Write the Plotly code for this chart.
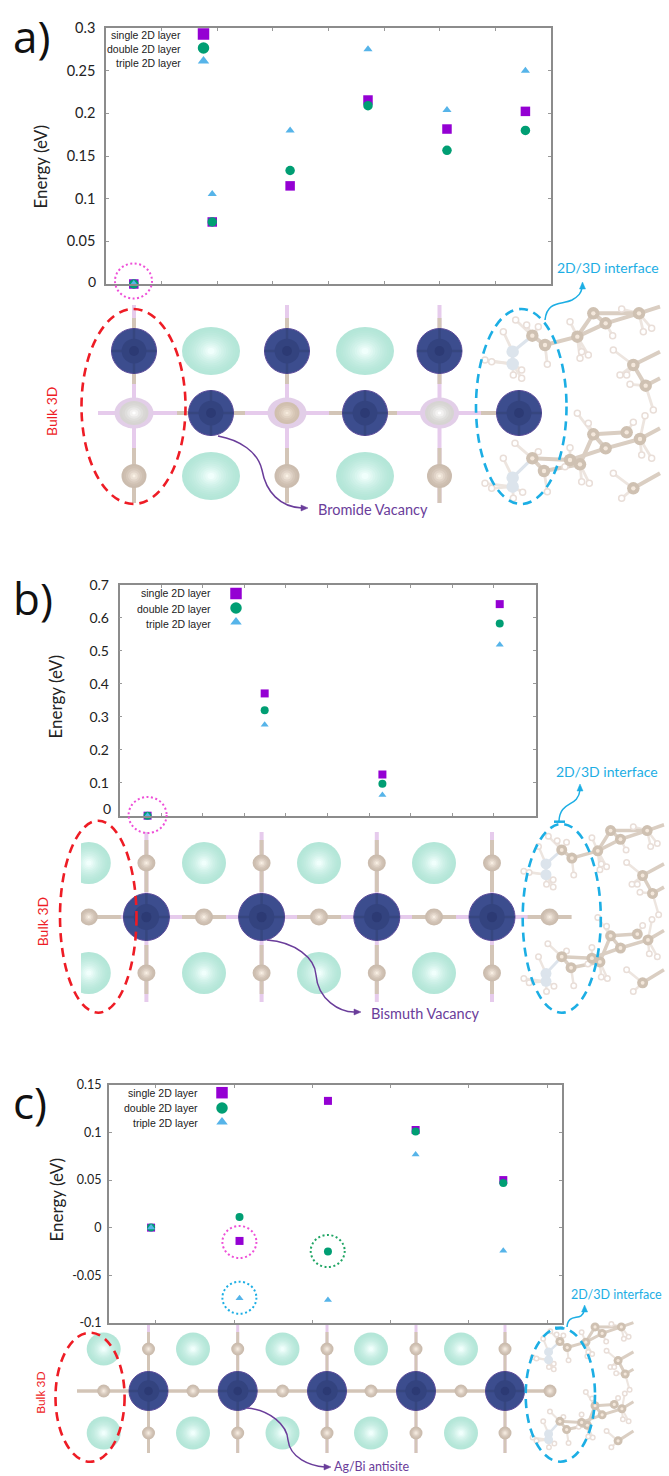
import plotly.graph_objects as go

W, H = 669, 1476
LABELS = ["single 2D layer", "double 2D layer", "triple 2D layer"]
COLORS = ["#9400D3", "#009E73", "#56B4E9"]
SYMBOLS = ["square", "circle", "triangle-up"]

# ---------- chart data ----------
a_x = [0.5, 1.91, 3.31, 4.71, 6.13, 7.54]
a_single = [0, 0.0727, 0.115, 0.2156, 0.1816, 0.2023]
a_double = [0, 0.0727, 0.133, 0.209, 0.1566, 0.18]
a_triple = [0, 0.1055, 0.18, 0.275, 0.204, 0.25]
a_ticks = [0, 0.05, 0.1, 0.15, 0.2, 0.25, 0.3]
a_ticktext = ["", "0.05", "0.1", "0.15", "0.2", "0.25", "0.3"]

b_x = [0.675, 3.49, 6.32, 9.14]
b_single = [0, 0.371, 0.125, 0.642]
b_double = [0, 0.32, 0.097, 0.583]
b_triple = [0, 0.276, 0.063, 0.519]
b_ticks = [0, 0.1, 0.2, 0.3, 0.4, 0.5, 0.6, 0.7]
b_ticktext = ["", "0.1", "0.2", "0.3", "0.4", "0.5", "0.6", "0.7"]

c_x = [0.94, 2.07, 3.2, 4.32, 5.44]
c_single = [0, -0.014, 0.1333, 0.1027, 0.05]
c_double = [0, 0.0112, -0.025, 0.101, 0.047]
c_triple = [0, -0.0743, -0.076, 0.0768, -0.0242]
c_ticks = [-0.1, -0.05, 0, 0.05, 0.1, 0.15]
c_ticktext = ["-0.1", "-0.05", "0", "0.05", "0.1", "0.15"]

panels = [
    dict(box=(106, 551, 28, 284), x=a_x, s=[a_single, a_double, a_triple], yr=[0, 0.3],
         xr=[0, 8], xt=list(range(1, 8)), yt=a_ticks, ytt=a_ticktext, ms=[9.5, 9.5, 8], ts=14.5, sd=9),
    dict(box=(119.5, 535.5, 585, 815.7), x=b_x, s=[b_single, b_double, b_triple], yr=[0, 0.7],
         xr=[0, 10], xt=list(range(1, 10)), yt=b_ticks, ytt=b_ticktext, ms=[8, 8, 7], ts=14, sd=9),
    dict(box=(108.8, 562, 1085, 1322.7), x=c_x, s=[c_single, c_double, c_triple], yr=[-0.1, 0.15],
         xr=[0.4, 6.19], xt=[1, 2, 3, 4, 5, 6], yt=c_ticks, ytt=c_ticktext, ms=[8, 8, 7], ts=12.5, sd=6),
]

fig = go.Figure()
layout = {}
for i, p in enumerate(panels):
    n = "" if i == 0 else str(i + 1)
    x0, x1, y0, y1 = p["box"]
    layout["xaxis" + n] = dict(domain=[x0 / W, x1 / W], range=p["xr"], tickvals=p["xt"], ticktext=[""] * len(p["xt"]),
                               ticks="inside", ticklen=3, tickcolor="#999", showline=True, mirror="ticks",
                               linecolor="#8c8c8c", linewidth=1.5, showgrid=False, zeroline=False, anchor="y" + n,
                               automargin=False)
    layout["yaxis" + n] = dict(domain=[1 - y1 / H, 1 - y0 / H], range=p["yr"], tickvals=p["yt"], ticktext=p["ytt"],
                               ticks="inside", ticklen=3, tickcolor="#999", showline=True, mirror="ticks",
                               linecolor="#8c8c8c", linewidth=1.5, showgrid=False, zeroline=False, anchor="x" + n,
                               ticklabelstandoff=p["sd"] - 3, automargin=False,
                               tickfont=dict(family="Lato", size=p["ts"], color="#222"))
    for lab, col, sym, vals, ms in zip(LABELS, COLORS, SYMBOLS, p["s"], p["ms"]):
        fig.add_trace(go.Scatter(x=p["x"], y=vals, mode="markers", name=lab, showlegend=False, cliponaxis=False,
                                 xaxis="x" + n, yaxis="y" + n,
                                 marker=dict(symbol=sym, size=ms, color=col, line=dict(width=0))))

# ---------- page-pixel overlay for the schematics ----------
layout["xaxis4"] = dict(domain=[0, 1], range=[0, W], visible=False, anchor="y4", fixedrange=True, automargin=False)
layout["yaxis4"] = dict(domain=[0, 1], range=[H, 0], visible=False, anchor="x4", fixedrange=True, automargin=False)
shapes, annos = [], []


def txt(x, y, s, size, color, family="Lato", anchor="center", angle=0):
    annos.append(dict(x=x, y=y, xref="x4", yref="y4", text=s, showarrow=False, xanchor=anchor, yanchor="middle",
                      textangle=angle, font=dict(family=family, size=size, color=color)))


def mix(c1, c2, t):
    a = [int(c1[i:i + 2], 16) for i in (1, 3, 5)]
    b = [int(c2[i:i + 2], 16) for i in (1, 3, 5)]
    return "#" + "".join(f"{round(u + (v - u) * t):02x}" for u, v in zip(a, b))


def ell(x, y, rx, ry, fill, line=None, lw=1, dash=None):
    shapes.append(dict(type="circle", xref="x4", yref="y4", x0=x - rx, x1=x + rx, y0=y - ry, y1=y + ry,
                       fillcolor=fill, line=dict(color=line or fill, width=lw if line else 0, dash=dash)))


def ball(x, y, rx, ry, edge, centre, n=6, core=0.12):
    for k in range(n):
        f = 1 - k * (1 - core) / (n - 1)
        ell(x, y, rx * f, ry * f, mix(edge, centre, (k / (n - 1)) ** 1.6))


def seg(xa, ya, xb, yb, color, w):
    shapes.append(dict(type="line", xref="x4", yref="y4", x0=xa, y0=ya, x1=xb, y1=yb, line=dict(color=color, width=w)))


def path(d, color, w=1.5, fill=None):
    shapes.append(dict(type="path", xref="x4", yref="y4", path=d, line=dict(color=color, width=w),
                       fillcolor=fill or "rgba(0,0,0,0)"))


PINK, TAN = "#E6CBEC", "#D3C5B7"


def blue(x, y, r, ry=None):
    ry = ry or r
    ell(x, y, r, ry, "#3C4D8E", "#5B4A9A", 1)
    seg(x - r, y, x + r, y, "#36467F", 2.5)
    seg(x, y - ry, x, y + ry, "#36467F", 2.5)
    ell(x, y, r * 0.55, ry * 0.55, "#33437F")
    ell(x, y, r * 0.22, ry * 0.22, "#2C3A74")


def teal(x, y, rx, ry):
    ball(x, y, rx, ry, "#B4E6D8", "#F0FFFC", n=12)


def tan(x, y, r, ry=None):
    ball(x, y, r, ry or r, "#CBBCAE", "#FAF1E6", n=6)


# molecule motif, in the pixel frame of panel a's zoomed crop
mol_c = [(187, 122), (225, 150), (322, 125), (370, 55), (407, 85), (507, 55), (490, 210), (527, 272), (370, 418),
         (407, 460), (470, 412), (510, 432), (187, 490), (222, 528), (300, 495), (330, 508), (490, 580)]
mol_n = [(128, 170), (128, 207), (128, 548), (128, 575)]
mol_b = [((187, 122), (225, 150)), ((225, 150), (322, 125)), ((322, 125), (370, 55)), ((370, 55), (407, 85)),
         ((322, 125), (407, 85)), ((370, 55), (507, 55)), ((407, 85), (507, 55)), ((507, 55), (570, 35)),
         ((490, 210), (570, 170)), ((490, 210), (527, 272)), ((527, 272), (570, 250)), ((370, 418), (407, 460)),
         ((370, 418), (470, 412)), ((407, 460), (510, 432)), ((370, 418), (330, 508)), ((407, 460), (300, 495)),
         ((300, 495), (187, 490)), ((187, 490), (222, 528)), ((222, 528), (330, 508)), ((490, 580), (570, 535)),
         ((510, 432), (570, 400))]
mol_nb = [((187, 122), (128, 170)), ((128, 170), (128, 207)), ((187, 490), (128, 548)), ((128, 548), (128, 575))]
mol_h = [(137, 75), (100, 110), (170, 90), (205, 95), (45, 195), (65, 200), (130, 240), (155, 225), (155, 250),
         (232, 208), (300, 80), (335, 170), (355, 180), (330, 190), (428, 122), (455, 42), (520, 110), (545, 100),
         (430, 165), (450, 240), (480, 268), (470, 240), (550, 345), (525, 362), (322, 355), (355, 385), (490, 382),
         (515, 480), (545, 490), (300, 458), (285, 515), (135, 445), (100, 490), (205, 470), (45, 565), (65, 580),
         (130, 610), (158, 592), (232, 590), (335, 560), (358, 565), (430, 535), (455, 610)]


def molecule(ox, oy, sx, sy, big, small, w):
    T = lambda p: (ox + p[0] * sx, oy + p[1] * sy)
    heavy = mol_c + mol_n
    hx, hy, bx, by, nx, ny = [], [], [], [], [], []
    for h in mol_h:
        near = min(heavy, key=lambda q: (q[0] - h[0]) ** 2 + (q[1] - h[1]) ** 2)
        a, b = T(h), T(near)
        hx += [a[0], b[0], None]
        hy += [a[1], b[1], None]
    for u, v in mol_b:
        a, b = T(u), T(v)
        bx += [a[0], b[0], None]
        by += [a[1], b[1], None]
    for u, v in mol_nb:
        a, b = T(u), T(v)
        nx += [a[0], b[0], None]
        ny += [a[1], b[1], None]
    line = lambda x, y, c, wd: go.Scatter(x=x, y=y, mode="lines", line=dict(color=c, width=wd), showlegend=False,
                                          hoverinfo="skip", xaxis="x4", yaxis="y4")
    dots = lambda pts, size, c, lc, lw=0: go.Scatter(x=[T(q)[0] for q in pts], y=[T(q)[1] for q in pts], mode="markers",
                                                     marker=dict(size=size, color=c, line=dict(color=lc, width=lw)),
                                                     showlegend=False, hoverinfo="skip", xaxis="x4", yaxis="y4")
    fig.add_trace(line(hx, hy, "#EDE5DF", w * 0.7))
    fig.add_trace(line(nx, ny, "#DDE4EC", w * 0.8))
    fig.add_trace(line(bx, by, "#DACEC2", w))
    fig.add_trace(dots(mol_h, small, "#FFFFFF", "#E9DED8", 1.5))
    fig.add_trace(dots(mol_c, big, "#CFC1B2", "#CFC1B2"))
    fig.add_trace(dots(mol_c, big * 0.35, "#F4E8DC", "#F4E8DC"))
    fig.add_trace(dots(mol_n, big, "#DCE4EC", "#DCE4EC"))


# ---- panel a schematic ----
a_cols = [134, 287, 439.5]
a_mid = [211, 365, 519]
a_rows = [351, 413, 476]
seg(98, a_rows[1], 497, a_rows[1], PINK, 4)
for cx in a_cols:
    seg(cx, 305, cx, 503, PINK, 4)
    seg(cx, 318, cx, 330, TAN, 4)
    seg(cx, 372, cx, 384, TAN, 4)
    seg(cx, 448, cx, 503, TAN, 4)
for s0, s1 in [(177, 245), (329, 397), (481, 497)]:
    seg(s0, a_rows[1], s1, a_rows[1], TAN, 4)
for cx in a_cols:
    blue(cx, a_rows[0], 22.5)
    tan(cx, a_rows[2], 12.5, 12)
for cx in a_mid[:2]:
    teal(cx, a_rows[0], 29, 24)
    teal(cx, a_rows[2], 29, 24)
for cx in a_mid:
    blue(cx, a_rows[1], 22.5)
for cx, inner in zip(a_cols, ["white", "tan", "white"]):
    ell(cx, a_rows[1], 19.5, 15.5, "#E2CEE8")
    if inner == "white":
        ball(cx, a_rows[1], 14.5, 12, "#D6D4D2", "#FFFFFF")
    else:
        ball(cx, a_rows[1], 12.5, 11, "#D0BFAE", "#F6EBDD")
molecule(470, 295, 1 / 3, 1 / 3, 12.5, 6, 4)

# ---- panel b schematic ----
b_cols = [146.4, 261.6, 376.8, 492]
b_mid = [88.8, 204, 319, 434, 549.6]
b_rows = [863, 917, 973]
for cx in b_cols:
    seg(cx, 832, cx, 1002, PINK, 4)
    seg(cx, 840, cx, 892, TAN, 4)
    seg(cx, 945, cx, 994, TAN, 4)
seg(81, b_rows[1], 549, b_rows[1], PINK, 4)
for cx in b_mid:
    seg(cx, b_rows[1], cx + (22 if cx > 100 else 32), b_rows[1], TAN, 4)
    if cx > 100:
        seg(cx, b_rows[1], cx - 22, b_rows[1], TAN, 4)
for cx in b_mid[:4]:
    teal(cx, b_rows[0], 22, 21)
    teal(cx, b_rows[2], 22, 21)
for cx in b_cols:
    tan(cx, b_rows[0], 9, 8.5)
    tan(cx, b_rows[2], 9, 8.5)
    blue(cx, b_rows[1], 23, 23.5)
for cx in b_mid:
    tan(cx, b_rows[1], 9, 8.5)
shapes.append(dict(type="rect", xref="x4", yref="y4", x0=50, x1=81, y0=830, y1=1005,
                   fillcolor="white", line=dict(width=0)))
molecule(511.8, 814.6, 0.267, 0.29, 11, 5.5, 3.5)

# ---- panel c schematic ----
c_cols = [148.5, 237.7, 327, 416, 505]
c_mid = [103.7, 193, 282.5, 371, 461, 550]
c_rows = [1349, 1391, 1433]
for cx in c_cols:
    seg(cx, 1325, cx, 1453, PINK, 3)
    seg(cx, 1332, cx, 1453, TAN, 3)
seg(77, c_rows[1], 550, c_rows[1], TAN, 3.5)
for cx in c_mid[:5]:
    teal(cx, c_rows[0], 17, 16.5)
    teal(cx, c_rows[2], 17, 16.5)
for cx in c_cols:
    tan(cx, c_rows[0], 6.5, 6.5)
    tan(cx, c_rows[2], 6.5, 6.5)
    blue(cx, c_rows[1], 19.5, 19.5)
for cx in c_mid:
    tan(cx, c_rows[1], 6.5, 6.5)
molecule(524, 1315, 0.192, 0.217, 9, 4.5, 3)

# ---- dashed regions, dotted markers, arrows ----
RED, CY, MAG = "#EE1C25", "#1CAEE4", "#EE4FD8"
for x0, x1, y0, y1, c in [(81.5, 185.5, 309, 504, RED), (476, 566.5, 309, 504, CY),
                          (60, 136.5, 820.7, 1012.7, RED), (522.7, 600.8, 824, 1012.7, CY),
                          (55.5, 124.6, 1332.7, 1461.7, RED), (525.7, 595, 1328, 1461.7, CY)]:
    shapes.append(dict(type="circle", xref="x4", yref="y4", x0=x0, x1=x1, y0=y0, y1=y1,
                       line=dict(color=c, width=2.6, dash="9px,6px")))
for x, y, rx, ry, c in [(133.5, 281, 18.5, 17.5, MAG), (147.6, 815, 19, 18, MAG), (239.4, 1242, 17, 16, MAG),
                        (327.7, 1251, 17, 16, "#1FA564"), (239.4, 1297.7, 17, 16, CY)]:
    shapes.append(dict(type="circle", xref="x4", yref="y4", x0=x - rx, x1=x + rx, y0=y - ry, y1=y + ry,
                       line=dict(color=c, width=2, dash="2px,2.5px")))

PUR = "#6A3D9A"
path("M218,436 C240,440 258,452 262,470 C266,492 280,507 302,508", PUR)
path("M308,508 L301,505 L301,511 Z", PUR, 0.5, PUR)
path("M267,940 C295,942 315,958 316,975 C318,1000 340,1012 354,1012", PUR)
path("M361,1012 L354,1009 L354,1015 Z", PUR, 0.5, PUR)
path("M247,1408 C270,1410 287,1425 288,1440 C290,1458 310,1466 325,1467", PUR)
path("M331,1467 L324,1464 L324,1470 Z", PUR, 0.5, PUR)

path("M545,320 C547,300 562,305 572,300 C579,296 581,293 582,288", CY)
path("M582.5,282 L579.5,289 L585.5,289 Z", CY, 0.5, CY)
path("M559,821 C560,800 578,808 580,790", CY)
path("M580,784 L577,791 L583,791 Z", CY, 0.5, CY)
seg(554, 821.7, 565, 821.7, CY, 2.5)
path("M567,1327 C568,1312 582,1322 584,1311", CY)
path("M584.6,1305 L581.6,1312 L587.6,1312 Z", CY, 0.5, CY)
seg(555, 1328, 563, 1328, CY, 3)

# ---- text ----
for s, y in zip(["a)", "b)", "c)"], [36, 598, 1102]):
    txt(11, y, s, 44, "#111", "Open Sans", "left")
for x, y in [(39.5, 167), (54.5, 697), (55.5, 1200)]:
    txt(x, y, "Energy (eV)", 17, "#222", "Lato", angle=-90)
txt(86, 281, "0", 14, "#222", "Lato", "left")
txt(101, 808, "0", 14, "#222", "Lato", "left")

leg = [(183, [35, 49, 63], 203.5, [34, 48, 61]), (213, [593, 609, 624], 236, [593.5, 608, 622]),
       (199.7, [1093, 1108, 1123], 222, [1092.7, 1108, 1122])]
for xt, yts, xm, yms in leg:
    for lab, yt, ym, col, sym, sz in zip(LABELS, yts, yms, COLORS, SYMBOLS, (11.5, 11.5, 10)):
        txt(xt, yt, lab, 10.5, "#222", "Liberation Sans", "right")
        fig.add_trace(go.Scatter(x=[xm], y=[ym], mode="markers", showlegend=False, hoverinfo="skip", xaxis="x4",
                                 yaxis="y4", marker=dict(symbol=sym, size=sz, color=col, line=dict(width=0))))

txt(51, 412, "Bulk 3D", 14, RED, "Lato", angle=-90)
txt(42.7, 921.6, "Bulk 3D", 14, RED, "Lato", angle=-90)
txt(39.7, 1393, "Bulk 3D", 12, RED, "Lato", angle=-90)
txt(608, 267, "2D/3D interface", 14, CY)
txt(606.5, 771.7, "2D/3D interface", 14, CY)
txt(616.5, 1294, "2D/3D interface", 12.5, CY)
txt(372.5, 509, "Bromide Vacancy", 14.5, PUR)
txt(425, 1013, "Bismuth Vacancy", 14.5, PUR)
txt(371, 1466.5, "Ag/Bi antisite", 12.5, PUR)

fig.update_layout(template="none", width=W, height=H, margin=dict(l=0, r=0, t=0, b=0, pad=0), autosize=False,
                  paper_bgcolor="white", plot_bgcolor="rgba(0,0,0,0)", showlegend=False, shapes=shapes,
                  annotations=annos, **layout)
fig.write_html("out.html", config={"displayModeBar": False}, post_script="document.body.style.margin='0';")
